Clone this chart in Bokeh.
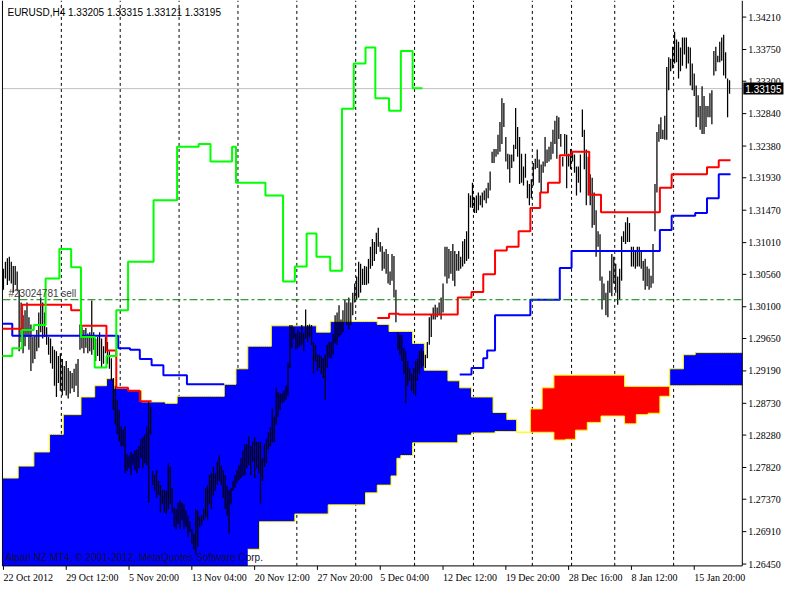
import numpy as np
from bokeh.plotting import figure
from bokeh.models import Range1d, Label, LabelSet, ColumnDataSource
from bokeh.embed import file_html
from bokeh.resources import INLINE

# ---------------- data (EURUSD H4 bars) ----------------
high = [
 1.3064,1.3074,1.3079,1.3081,1.3074,1.3068,1.3068,1.3060,1.3034,1.3016,
 1.2998,1.3005,1.3016,1.2995,1.2985,1.2967,1.2970,1.2977,1.3002,1.3023,
 1.3016,1.3002,1.2981,1.2967,1.2965,1.2954,1.2949,1.2947,1.2940,1.2944,
 1.2936,1.2926,1.2933,1.2923,1.2919,1.2916,1.2922,1.2929,1.2936,1.2985,
 1.2981,1.2977,1.2980,1.2972,1.2974,1.3019,1.2974,1.2965,1.2967,1.2974,
 1.2965,1.2954,1.2967,1.2960,1.2947,1.2937,1.2909,1.2898,1.2878,1.2864,
 1.2840,1.2836,1.2840,1.2801,1.2799,1.2804,1.2801,1.2806,1.2808,1.2812,
 1.2822,1.2825,1.2829,1.2840,1.2875,1.2868,1.2777,1.2771,1.2778,1.2763,
 1.2757,1.2750,1.2750,1.2749,1.2788,1.2783,1.2753,1.2725,1.2723,1.2732,
 1.2736,1.2732,1.2730,1.2721,1.2714,1.2705,1.2694,1.2688,1.2723,1.2721,
 1.2712,1.2714,1.2723,1.2753,1.2756,1.2771,1.2774,1.2783,1.2774,1.2790,
 1.2799,1.2785,1.2778,1.2771,1.2756,1.2750,1.2753,1.2763,1.2771,1.2778,
 1.2785,1.2795,1.2806,1.2815,1.2815,1.2826,1.2812,1.2819,1.2825,1.2818,
 1.2818,1.2818,1.2795,1.2815,1.2822,
 1.2832,1.2839,1.2866,1.2854,1.2895,1.2889,1.2887,1.2887,1.2891,1.2898,
 1.2930,1.2984,1.2984,1.2981,1.2972,1.2978,1.2974,1.2984,1.2972,1.3006,
 1.2984,1.2985,1.2984,1.2960,1.2956,1.2942,1.2942,1.2940,1.2937,1.2942,
 1.2956,1.2960,1.2960,1.2972,1.2998,1.3002,1.3012,1.2992,1.3005,1.3020,
 1.3016,1.3023,1.3016,1.3030,1.3043,1.3053,1.3074,1.3071,1.3064,1.3068,
 1.3067,1.3078,1.3095,1.3106,1.3102,1.3115,1.3122,1.3102,1.3096,1.3088,
 1.3092,1.3085,1.3060,1.3085,1.3082,1.3034,1.2974,1.2970,1.2970,1.2951,
 1.2947,1.2933,1.2923,1.2915,1.2923,1.2933,1.2936,1.2947,1.2951,1.2947,
 1.2942,1.2960,1.2995,1.2999,1.3009,1.3013,1.3009,1.3016,1.3023,
 1.3043,1.3095,1.3095,1.3092,1.3089,1.3099,1.3089,1.3085,1.3089,1.3081,
 1.3103,1.3106,1.3117,1.3171,1.3168,1.3186,1.3165,1.3168,1.3172,1.3168,
 1.3172,1.3175,1.3178,1.3186,1.3202,1.3230,1.3234,1.3234,1.3254,1.3272,
 1.3306,1.3299,1.3251,1.3227,1.3226,1.3226,1.3240,1.3292,1.3265,1.3251,
 1.3227,1.3209,1.3227,1.3189,1.3184,1.3191,1.3214,1.3220,1.3233,1.3219,
 1.3212,1.3216,1.3251,1.3233,1.3237,1.3244,1.3261,1.3274,1.3281,1.3279,
 1.3255,1.3223,1.3255,1.3254,1.3227,1.3234,1.3230,1.3226,1.3209,1.3209,
 1.3226,1.3290,1.3261,1.3233,1.3223,1.3198,1.3193,1.3172,1.3147,1.3117,
 1.3113,1.3053,1.3043,1.3030,1.3047,1.3061,1.3085,1.3081,1.3071,1.3053,
 1.3064,1.3110,1.3117,1.3130,1.3137,1.3129,1.3095,1.3095,1.3088,1.3095,
 1.3095,1.3089,1.3075,1.3078,1.3067,1.3064,1.3054,1.3099,1.3184,1.3258,
 1.3269,1.3279,1.3261,1.3281,1.3350,1.3364,1.3362,1.3379,1.3400,1.3389,
 1.3386,1.3378,1.3392,1.3392,1.3392,1.3379,1.3378,1.3355,1.3341,1.3324,
 1.3310,1.3295,1.3323,1.3309,1.3295,1.3295,1.3313,1.3317,1.3373,1.3379,
 1.3366,1.3386,1.3392,1.3396,1.3371,1.3334,1.33315,
]
low = [
 1.3034,1.3050,1.3041,1.3047,1.3043,1.3030,1.3041,1.3032,1.2947,1.2960,
 1.2944,1.2954,1.2967,1.2949,1.2919,1.2930,1.2936,1.2947,1.2952,1.2974,
 1.2965,1.2967,1.2956,1.2942,1.2930,1.2922,1.2898,1.2882,1.2902,1.2891,
 1.2884,1.2891,1.2884,1.2880,1.2887,1.2894,1.2889,1.2898,1.2882,1.2949,
 1.2951,1.2944,1.2952,1.2944,1.2947,1.2942,1.2949,1.2933,1.2940,1.2933,
 1.2923,1.2929,1.2944,1.2929,1.2922,1.2905,1.2864,1.2843,1.2829,1.2819,
 1.2812,1.2812,1.2774,1.2777,1.2781,1.2771,1.2785,1.2778,1.2774,1.2781,
 1.2795,1.2781,1.2788,1.2785,1.2732,1.2829,1.2757,1.2749,1.2739,1.2743,
 1.2718,1.2730,1.2718,1.2716,1.2723,1.2730,1.2718,1.2698,1.2694,1.2702,
 1.2695,1.2707,1.2694,1.2698,1.2684,1.2691,1.2674,1.2666,1.2659,1.2670,
 1.2698,1.2700,1.2707,1.2712,1.2707,1.2730,1.2723,1.2742,1.2749,1.2757,
 1.2763,1.2757,1.2739,1.2723,1.2714,1.2688,1.2730,1.2749,1.2753,1.2760,
 1.2764,1.2767,1.2770,1.2771,1.2781,1.2785,1.2771,1.2790,1.2767,1.2781,
 1.2774,1.2730,1.2763,1.2783,1.2788,
 1.2808,1.2812,1.2818,1.2818,1.2843,1.2854,1.2864,1.2873,1.2875,1.2878,
 1.2884,1.2923,1.2951,1.2965,1.2949,1.2951,1.2954,1.2956,1.2947,1.2965,
 1.2960,1.2967,1.2956,1.2915,1.2933,1.2919,1.2923,1.2915,1.2909,1.2878,
 1.2923,1.2937,1.2937,1.2942,1.2958,1.2956,1.2967,1.2970,1.2974,1.2988,
 1.2984,1.2978,1.2984,1.2998,1.3016,1.3020,1.3023,1.3030,1.3041,1.3041,
 1.3041,1.3043,1.3064,1.3068,1.3075,1.3085,1.3095,1.3088,1.3061,1.3064,
 1.3057,1.3043,1.3041,1.3047,1.3023,1.2988,1.2949,1.2942,1.2933,1.2915,
 1.2873,1.2898,1.2905,1.2891,1.2887,1.2884,1.2905,1.2915,1.2923,1.2926,
 1.2923,1.2937,1.2956,1.2967,1.2992,1.2992,1.2995,1.2998,1.2992,
 1.3002,1.3053,1.3043,1.3050,1.3057,1.3047,1.3039,1.3061,1.3061,1.3064,
 1.3067,1.3071,1.3075,1.3078,1.3151,1.3150,1.3143,1.3143,1.3147,1.3154,
 1.3151,1.3161,1.3157,1.3164,1.3175,1.3214,1.3214,1.3223,1.3226,1.3230,
 1.3241,1.3265,1.3216,1.3205,1.3186,1.3207,1.3216,1.3234,1.3223,1.3184,
 1.3186,1.3182,1.3193,1.3164,1.3154,1.3164,1.3182,1.3205,1.3207,1.3186,
 1.3172,1.3200,1.3209,1.3214,1.3216,1.3219,1.3227,1.3241,1.3220,1.3248,
 1.3237,1.3209,1.3226,1.3178,1.3209,1.3205,1.3216,1.3200,1.3168,1.3186,
 1.3172,1.3251,1.3205,1.3154,1.3168,1.3154,1.3122,1.3126,1.3081,1.3095,
 1.3047,1.3006,1.3020,1.2998,1.2995,1.3030,1.3025,1.3043,1.3030,1.3013,
 1.3020,1.3047,1.3102,1.3099,1.3102,1.3102,1.3067,1.3067,1.3064,1.3067,
 1.3067,1.3064,1.3047,1.3034,1.3039,1.3034,1.3037,1.3043,1.3117,1.3172,
 1.3244,1.3248,1.3248,1.3247,1.3247,1.3317,1.3344,1.3348,1.3355,1.3357,
 1.3334,1.3344,1.3352,1.3368,1.3348,1.3355,1.3324,1.3317,1.3309,1.3265,
 1.3279,1.3261,1.3255,1.3255,1.3265,1.3279,1.3279,1.3269,1.3338,1.3344,
 1.3357,1.3357,1.3359,1.3338,1.3334,1.3279,1.33121,
]
last_ohlc = [1.33205, 1.33315, 1.33121, 1.33195]
symbol = "EURUSD,H4"

# Ichimoku lines as runs: bar where a level starts, and the level (None = hidden)
tenkan_start = [0, 10, 35, 40, 53, 58, 64, 70, 76, 191, 197, 202, 232, 239, 245, 251, 257,
                263, 269, 274, 278, 284, 290, 299, 305, 335, 341, 359, 365]
tenkan_val = [1.2979, 1.3013, 1.3005, 1.2983, 1.2948, 1.2895, 1.2891, 1.2876, None, 1.2994,
              1.3000, 1.2999, 1.3023, 1.3031, 1.3056, 1.3090, 1.3095, 1.3117, 1.3150, 1.3172,
              1.3186, 1.3225, 1.3230, 1.3169, 1.3144, 1.3179, 1.3198, 1.3208, 1.3218]
kijun_start = [0, 5, 59, 65, 70, 76, 82, 94, 113, 233, 239, 245, 247, 251, 269, 284, 290,
               335, 341, 353, 359, 365]
kijun_val = [1.2986, 1.2969, 1.2951, 1.2949, 1.2936, 1.2927, 1.2913, 1.2900, None, 1.2914,
             1.2923, 1.2937, 1.2948, 1.2998, 1.3020, 1.3065, 1.3089, 1.3119, 1.3139, 1.3143,
             1.3164, 1.3198]
chikou_start = [0, 5, 10, 16, 22, 29, 35, 40, 47, 53, 58, 64, 77, 89, 100, 106, 117, 119, 134,
                143, 149, 155, 160, 167, 173, 179, 185, 190, 197, 203, 209, 214]
chikou_val = [1.2940, 1.2951, 1.2977, 1.2984, 1.3050, 1.3092, 1.3066, 1.2967, 1.2924, 1.2940,
              1.3005, 1.3074, 1.3161, 1.3237, 1.3241, 1.3216, 1.3237, 1.3186, 1.3168, 1.3046,
              1.3067, 1.3114, 1.3081, 1.3061, 1.3291, 1.3355, 1.3378, 1.3306, 1.3288, 1.3373,
              1.3320, None]
spanA_start = [0, 8, 16, 24, 31, 40, 47, 53, 57, 64, 71, 83, 89, 113, 119, 125, 137, 160, 167,
               191, 197, 209, 215, 227, 233, 239, 250, 257, 262, 281, 287, 292, 298, 305, 317,
               323, 329, 335, 340, 347, 353]
spanA_val = [1.2767, 1.2784, 1.2804, 1.2829, 1.2857, 1.2882, 1.2898, 1.2908, 1.2894, 1.2891,
             1.2875, 1.2873, 1.2883, 1.2900, 1.2922, 1.2954, 1.2983, 1.2974, 1.2989, 1.2985,
             1.2975, 1.2958, 1.2920, 1.2905, 1.2895, 1.2882, 1.2860, 1.2850, 1.2832, 1.2821,
             1.2822, 1.2835, 1.2846, 1.2855, 1.2844, 1.2857, 1.2859, 1.2883, 1.2922, 1.2942,
             1.2945]
spanB_start = [0, 125, 131, 149, 166, 185, 191, 198, 201, 203, 209, 232, 239, 251, 262, 269,
               275, 281, 317, 340]
spanB_val = [1.2600, 1.2666, 1.2705, 1.2716, 1.2729, 1.2746, 1.2757, 1.2770, 1.2795, 1.2799,
             1.2817, 1.2828, 1.2831, 1.2833, 1.2832, 1.2865, 1.2895, 1.2913, 1.2897, 1.2898]
cloud_bars = 377

order_price = 1.3020
order_text = "#23024781 sell"

x_tick_bars = [0, 32, 64, 96, 128, 160, 192, 224, 256, 288, 320, 352]
x_tick_labels = ["22 Oct 2012", "29 Oct 12:00", "5 Nov 20:00", "13 Nov 04:00", "20 Nov 12:00",
                 "27 Nov 20:00", "5 Dec 04:00", "12 Dec 12:00", "19 Dec 20:00", "28 Dec 16:00",
                 "8 Jan 12:00", "15 Jan 20:00"]
week_start_bars = [30, 60, 90, 120, 150, 180, 210, 240, 270, 290, 312, 342]
y_ticks = [1.26450, 1.26910, 1.27370, 1.27820, 1.28280, 1.28730, 1.29190, 1.29650, 1.30100,
           1.30560, 1.31010, 1.31470, 1.31930, 1.32380, 1.32840, 1.33300, 1.33750, 1.34210]
price_top, price_bottom = 1.34445, 1.26424

# ---------------- helpers ----------------
def expand(starts, vals, n):
    out = np.full(n, np.nan)
    for k, s in enumerate(starts):
        e = starts[k + 1] if k + 1 < len(starts) else n
        out[s:e] = np.nan if vals[k] is None else vals[k]
    return out

def step_xy(v):
    xs, ys = [], []
    for i, y in enumerate(v):
        xs += [i - 0.5, i + 0.5]
        ys += [y, y]
    return xs, ys

FONT = "Liberation Sans"
FS = "10px"
W, H = 784, 584

n_bars = len(high)
idx = np.arange(n_bars)
x_left, x_right = -0.5, cloud_bars - 0.5
xr = Range1d(x_left - 1.0, x_right + 21.5)
yr = Range1d(1.2616, price_top)
bars_per_px = (xr.end - xr.start) / W
price_per_px = (yr.end - yr.start) / H
tick_x = 4 * bars_per_px
tick_y = 4 * price_per_px

p = figure(width=W, height=H, output_backend="svg", toolbar_location=None,
           x_range=xr, y_range=yr, x_axis_location=None, y_axis_location=None,
           min_border_left=0, min_border_right=0, min_border_top=0, min_border_bottom=0,
           background_fill_color="white", border_fill_color="white",
           outline_line_color=None)
p.xgrid.visible = False
p.ygrid.visible = False

# vertical dashed grid at week starts
wk = [b - 0.5 for b in week_start_bars]
p.segment(x0=wk, x1=wk, y0=price_bottom, y1=price_top, line_color="black",
          line_dash="3 3", line_width=1)
# current price line
p.segment(x0=[x_left], x1=[x_right], y0=[last_ohlc[3]], y1=[last_ohlc[3]],
          line_color="#C0C0C0", line_width=1)

# cloud (clipped to the chart window)
A = expand(spanA_start, spanA_val, cloud_bars)
B = expand(spanB_start, spanB_val, cloud_bars)
top = np.clip(np.maximum(A, B), price_bottom, price_top)
bot = np.clip(np.minimum(A, B), price_bottom, price_top)
col = np.where(A >= B, "#0000FF", "#FF0000")
i = 0
while i < cloud_bars:
    j = i
    while j < cloud_bars and col[j] == col[i] and top[j] > bot[j]:
        j += 1
    if j == i:
        i += 1
        continue
    xu, yu = step_xy(top[i:j])
    xd, yd = step_xy(bot[i:j])
    xs = [x + i for x in xu] + [x + i for x in xd[::-1]]
    ys = yu + yd[::-1]
    p.patch(xs, ys, fill_color=col[i], line_color=None)
    i = j
for span in (A, B):
    vis = np.where(span < price_bottom, np.nan, span)
    xs, ys = step_xy(vis)
    p.line(xs, ys, line_color="#FFFF00", line_width=1)

# chart window border (left, bottom, right) with tick marks
p.segment(x0=[x_left, x_left, x_right], x1=[x_left, x_right, x_right],
          y0=[price_bottom, price_bottom, price_bottom], y1=[price_top, price_bottom, price_top],
          line_color="black", line_width=1)
p.segment(x0=x_tick_bars, x1=x_tick_bars, y0=[price_bottom] * len(x_tick_bars),
          y1=[price_bottom - tick_y] * len(x_tick_bars), line_color="black", line_width=1)
p.segment(x0=[x_right] * len(y_ticks), x1=[x_right + tick_x] * len(y_ticks),
          y0=y_ticks, y1=y_ticks, line_color="black", line_width=1)

# price bars
p.segment(x0=idx, y0=low, x1=idx, y1=high, line_color="black", line_width=1.25)

# Ichimoku lines
for starts, vals, c in ((kijun_start, kijun_val, "#0000FF"),
                        (tenkan_start, tenkan_val, "#FF0000"),
                        (chikou_start, chikou_val, "#00FF00")):
    xs, ys = step_xy(expand(starts, vals, n_bars))
    p.line(xs, ys, line_color=c, line_width=2)

# order line
p.segment(x0=[x_left], x1=[x_right], y0=[order_price], y1=[order_price],
          line_color="#008000", line_dash="8 3 3 3", line_width=1)
p.add_layout(Label(x=x_left, y=order_price, x_offset=6, y_offset=1, text=order_text,
                   text_font=FONT, text_font_size=FS, text_color="#404040",
                   text_baseline="bottom"))

# header and copyright
hdr = symbol + "  " + " ".join("%.5f" % v for v in last_ohlc)
p.add_layout(Label(x=x_left, y=price_top, x_offset=5, y_offset=-6, text=hdr,
                   text_font=FONT, text_font_size=FS, text_color="black",
                   text_baseline="top"))
p.add_layout(Label(x=x_left, y=price_bottom, x_offset=3, y_offset=3,
                   text="Alpari NZ MT4, \u00a9 2001-2012, MetaQuotes Software Corp.",
                   text_font=FONT, text_font_size=FS, text_color="#101030",
                   text_baseline="bottom"))

# tick labels, left-aligned as in the terminal
xlab = ColumnDataSource(dict(x=x_tick_bars, y=[price_bottom] * len(x_tick_bars), t=x_tick_labels))
p.add_layout(LabelSet(x="x", y="y", text="t", source=xlab, y_offset=-6, x_offset=0,
                      text_align="left", text_baseline="top", text_font=FONT,
                      text_font_size=FS, text_color="black"))
ylab = ColumnDataSource(dict(x=[x_right] * len(y_ticks), y=y_ticks,
                             t=["%.5f" % v for v in y_ticks]))
p.add_layout(LabelSet(x="x", y="y", text="t", source=ylab, x_offset=6,
                      text_align="left", text_baseline="middle", text_font=FONT,
                      text_font_size=FS, text_color="black"))

# current price tag on the price scale
p.add_layout(Label(x=x_right, y=last_ohlc[3], x_offset=1, text="%.5f" % last_ohlc[3],
                   text_font=FONT, text_font_size=FS, text_color="white",
                   background_fill_color="black", text_baseline="middle",
                   text_align="left", padding=2))

open("out.html", "w").write(file_html(p, INLINE))
